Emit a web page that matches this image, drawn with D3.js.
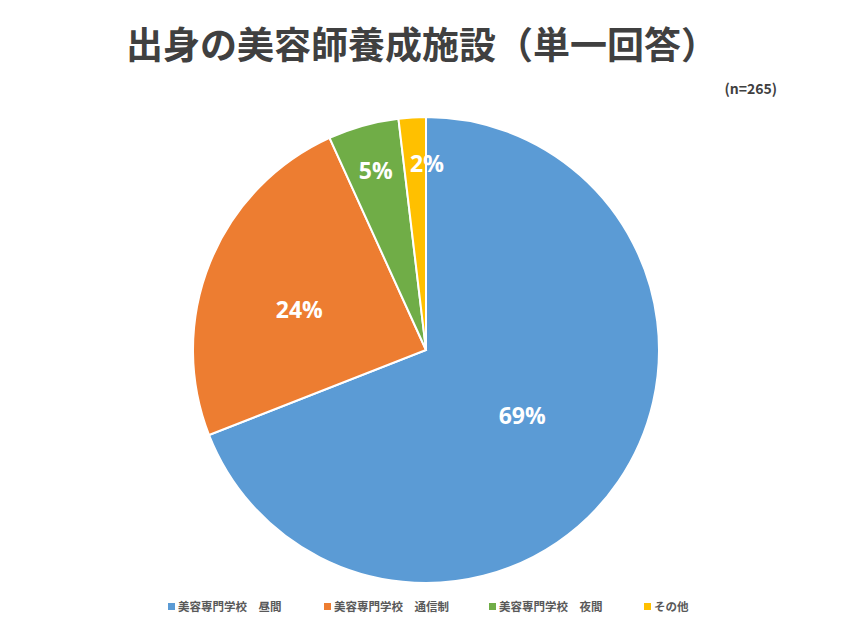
<!DOCTYPE html>
<html>
<head>
<meta charset="utf-8">
<script src="https://cdn.jsdelivr.net/npm/d3@7"></script>
<style>
	body { margin: 0; background: #fff; }
	svg { display: block; }
</style>
</head>
<body>
<div id="chart"></div>
<script>
const categories = ['美容専門学校　昼間', '美容専門学校　通信制', '美容専門学校　夜間', 'その他'];
const counts = [183, 64, 13, 5];
const pctLabels = ['69%', '24%', '5%', '2%'];
const colors = ['#5B9BD5', '#ED7D31', '#70AD47', '#FFC000'];

const W = 853, H = 640;
const cx = 426, cy = 350, R = 233;
const jpFont = '"Noto Sans CJK JP", "Noto Sans", sans-serif';

const svg = d3.select('#chart').append('svg')
	.attr('width', W)
	.attr('height', H);

// title
svg.append('text')
	.attr('x', 422).attr('y', 59)
	.attr('text-anchor', 'middle')
	.style('font-family', jpFont)
	.style('font-weight', 700)
	.style('font-size', '37px')
	.style('fill', '#404040')
	.text('出身の美容師養成施設（単一回答）');

svg.append('text')
	.attr('x', 777).attr('y', 94)
	.attr('text-anchor', 'end')
	.style('font-family', jpFont)
	.style('font-weight', 700)
	.style('font-size', '14px')
	.style('fill', '#404040')
	.text('(n=265)');

const total = d3.sum(counts);
const pie = d3.pie().sort(null).value(d => d)(counts);
const arc = d3.arc().innerRadius(0).outerRadius(R);

const g = svg.append('g').attr('transform', `translate(${cx},${cy})`);

g.selectAll('path.slice')
	.data(pie)
	.join('path')
	.attr('class', 'slice')
	.attr('d', arc)
	.attr('fill', (d, i) => colors[i])
	.attr('stroke', '#fff')
	.attr('stroke-width', 2);

// labels: big slices nearer the middle, thin slices near the rim
g.selectAll('text.pct')
	.data(pie)
	.join('text')
	.attr('class', 'pct')
	.attr('transform', d => {
		const share = d.value / total;
		const k = share > 0.5 ? 0.5 : (share > 0.1 ? 0.57 : 0.8);
		// thin slices: nudge the label off toward the slice's open side
		const a = (d.startAngle + d.endAngle) / 2 - (share > 0.1 && share < 0.5 ? 0.08 : 0);
		const nudge = share < 0.03 ? 12 : 0;
		return `translate(${Math.sin(a) * R * k + nudge},${-Math.cos(a) * R * k})`;
	})
	.attr('text-anchor', 'middle')
	.attr('dy', '0.35em')
	.style('font-family', '"Open Sans", "Noto Sans", sans-serif')
	.style('font-weight', 700)
	.style('font-size', '23px')
	.style('fill', '#fff')
	.text((d, i) => pctLabels[i]);

// legend
const legendX = [168, 324, 489, 644];
const legend = svg.append('g').attr('transform', 'translate(0,607)');
const item = legend.selectAll('g')
	.data(categories)
	.join('g')
	.attr('transform', (d, i) => `translate(${legendX[i]},0)`);

item.append('rect')
	.attr('x', 0).attr('y', -4)
	.attr('width', 7).attr('height', 7)
	.attr('fill', (d, i) => colors[i]);

item.append('text')
	.attr('x', 10).attr('y', 0)
	.attr('dy', '0.35em')
	.style('font-family', jpFont)
	.style('font-weight', 700)
	.style('font-size', '11.5px')
	.style('fill', '#595959')
	.text(d => d);
</script>
</body>
</html>
